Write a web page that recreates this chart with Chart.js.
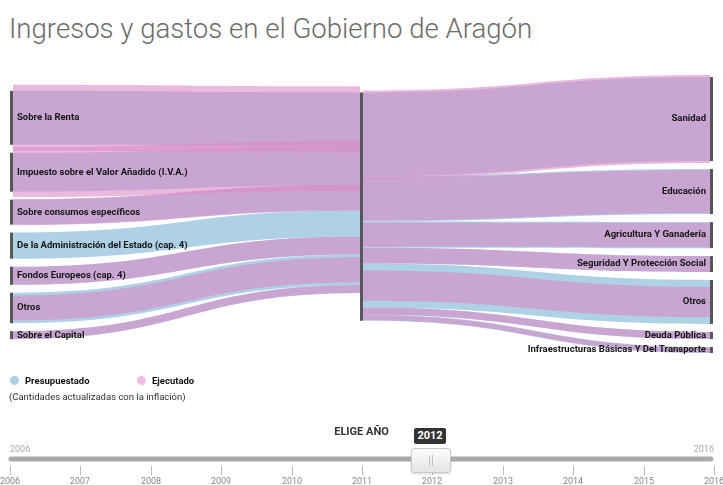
<!DOCTYPE html>
<html>
<head>
<meta charset="utf-8">
<script src="https://cdn.jsdelivr.net/npm/chart.js@4.4.1/dist/chart.umd.min.js"></script>
<style>
body { margin: 0; background: #fff; font-family: Roboto, "Noto Sans", sans-serif; }
#wrap { position: relative; width: 723px; height: 485px; overflow: hidden; }
#grafico { position: absolute; left: 0; top: 0; }
#titulo { position: absolute; left: 9px; top: 14px; margin: 0; font-size: 27.6px; line-height: 30px; font-weight: 300; color: #6b6b6b; white-space: nowrap; }
.ley { position: absolute; top: 376px; font-size: 9.5px; font-weight: bold; color: #111; line-height: 10px; }
.ley i { display: inline-block; width: 9px; height: 9px; border-radius: 50%; vertical-align: -1px; margin-right: 6px; }
#nota { position: absolute; left: 9px; top: 391px; font-size: 9.5px; color: #333; line-height: 11px; }
#elige { position: absolute; left: 0; width: 723px; top: 426px; text-align: center; font-size: 11px; font-weight: bold; color: #333; line-height: 12px; }
#burbuja { position: absolute; top: 428px; width: 32px; height: 16px; background: #333; color: #fff; border-radius: 2px; font-size: 11px; font-weight: bold; line-height: 16px; text-align: center; }
#pista { position: absolute; left: 8px; width: 704px; top: 456px; height: 4px; background: #a9a9a9; border: 1px solid #d4d4d4; border-radius: 3px; }
#mango { position: absolute; top: 448px; width: 38px; height: 23px; border: 1px solid #c9c9c9; border-radius: 3px; background: linear-gradient(#fdfdfd, #e4e4e4); box-shadow: 0 1px 2px rgba(0,0,0,0.15); }
#mango:before, #mango:after { content: ""; position: absolute; top: 6px; height: 11px; width: 1px; background: #c4c4c4; }
#mango:before { left: 17px; } #mango:after { left: 20px; }
.extremo { position: absolute; top: 444px; font-size: 9px; color: #aaa; line-height: 10px; }
.marca { position: absolute; top: 466px; width: 1px; height: 9px; background: #bbb; }
.anio { position: absolute; top: 476px; width: 40px; margin-left: -20px; text-align: center; font-size: 9px; color: #888; line-height: 10px; }
</style>
</head>
<body>
<div id="wrap">
  <h1 id="titulo">Ingresos y gastos en el Gobierno de Aragón</h1>
  <canvas id="grafico" width="723" height="485"></canvas>
  <div class="ley" style="left:10px"><i style="background:#acd0e6"></i>Presupuestado</div>
  <div class="ley" style="left:137px"><i style="background:#f2bde0"></i>Ejecutado</div>
  <div id="nota">(Cantidades actualizadas con la inflación)</div>
  <div id="selector"></div>
</div>
<script>
// millones de euros, año 2012
var ingresos = ["Sobre la Renta", "Impuesto sobre el Valor Añadido (I.V.A.)", "Sobre consumos específicos",
  "De la Administración del Estado (cap. 4)", "Fondos Europeos (cap. 4)", "Otros", "Sobre el Capital"];
var ingresosPresupuestado = [1220, 880, 565, 590, 410, 690, 180];
var ingresosEjecutado = [1490, 1130, 590, 0, 410, 565, 180];

var gastos = ["Sanidad", "Educación", "Agricultura Y Ganadería", "Seguridad Y Protección Social",
  "Otros", "Deuda Pública", "Infraestructuras Básicas Y Del Transporte"];
var gastosPresupuestado = [1900, 1020, 590, 360, 995, 160, 136];
var gastosEjecutado = [1990, 970, 545, 360, 680, 160, 115];

var years = [2006, 2007, 2008, 2009, 2010, 2011, 2012, 2013, 2014, 2015, 2016];
var selectedYear = 2012;

var PAD = 180; // hueco entre nodos, en millones
var BAR = 3;
var colorPresupuestado = 'rgba(140,190,220,0.7)';
var colorEjecutado = 'rgba(220,138,198,0.6)';

function sum(a){ return a.reduce(function(s, v){ return s + v; }, 0); }

var inTot = sum(ingresosPresupuestado);
var outTot = sum(gastosPresupuestado);
var yMax = Math.max(inTot + PAD * (ingresos.length - 1), outTot + PAD * (gastos.length - 1));

function stack(vals){
  var h = sum(vals) + PAD * (vals.length - 1);
  var y = (yMax - h) / 2;
  return vals.map(function(v){ var n = {y0: y, y1: y + v}; y += v + PAD; return n; });
}

function calcLayout(){
  var left = stack(ingresosPresupuestado);
  var right = stack(gastosPresupuestado);
  var cH = Math.max(inTot, outTot);
  var w = 0;
  left.forEach(function(n, i){ w += (n.y0 + n.y1) / 2 * ingresosPresupuestado[i]; });
  right.forEach(function(n, i){ w += (n.y0 + n.y1) / 2 * gastosPresupuestado[i]; });
  var mid = w / (inTot + outTot);
  var cy0 = Math.min(Math.max(mid - cH / 2, 0), yMax - cH);
  return {left: left, right: right, cy0: cy0, cy1: cy0 + cH};
}

var sankeyPlugin = {
  id: 'sankeyFlujos',
  afterDatasetsDraw: function(chart){
    var ctx = chart.ctx, xs = chart.scales.x, ys = chart.scales.y;
    var L = calcLayout();
    var xL = xs.getPixelForValue(0), xC = xs.getPixelForValue(1), xR = xs.getPixelForValue(2);
    var py = function(v){ return ys.getPixelForValue(v); };

    function band(x0, c0, x1, c1, val, color){
      var h = Math.abs(py(val) - py(0));
      if (h <= 0) return;
      var a = py(c0), b = py(c1), xm = (x0 + x1) / 2;
      ctx.beginPath();
      ctx.moveTo(x0, a - h / 2);
      ctx.bezierCurveTo(xm, a - h / 2, xm, b - h / 2, x1, b - h / 2);
      ctx.lineTo(x1, b + h / 2);
      ctx.bezierCurveTo(xm, b + h / 2, xm, a + h / 2, x0, a + h / 2);
      ctx.closePath();
      ctx.fillStyle = color;
      ctx.fill();
    }

    // centros de cada enlace en el nodo central
    var cIn = [], cOut = [], acc = L.cy0;
    ingresosPresupuestado.forEach(function(v){ cIn.push(acc + v / 2); acc += v; });
    acc = L.cy0;
    gastosPresupuestado.forEach(function(v){ cOut.push(acc + v / 2); acc += v; });

    ctx.save();
    [[ingresosPresupuestado, gastosPresupuestado, colorPresupuestado],
     [ingresosEjecutado, gastosEjecutado, colorEjecutado]].forEach(function(capa){
      L.left.forEach(function(n, i){
        band(xL + BAR, (n.y0 + n.y1) / 2, xC - BAR / 2, cIn[i], capa[0][i], capa[2]);
      });
      L.right.forEach(function(n, i){
        band(xC + BAR / 2, cOut[i], xR - BAR, (n.y0 + n.y1) / 2, capa[1][i], capa[2]);
      });
    });

    // nodos
    ctx.fillStyle = '#575757';
    L.left.forEach(function(n){ ctx.fillRect(xL, py(n.y0), BAR, py(n.y1) - py(n.y0)); });
    L.right.forEach(function(n){ ctx.fillRect(xR - BAR, py(n.y0), BAR, py(n.y1) - py(n.y0)); });
    ctx.fillRect(xC - BAR / 2, py(L.cy0), BAR, py(L.cy1) - py(L.cy0));

    // etiquetas
    ctx.font = 'bold 9.5px Roboto';
    ctx.fillStyle = '#151515';
    ctx.textBaseline = 'middle';
    ctx.textAlign = 'left';
    L.left.forEach(function(n, i){ ctx.fillText(ingresos[i], xL + 7, py((n.y0 + n.y1) / 2)); });
    ctx.textAlign = 'right';
    L.right.forEach(function(n, i){ ctx.fillText(gastos[i], xR - 7, py((n.y0 + n.y1) / 2)); });
    ctx.restore();
  }
};

new Chart(document.getElementById('grafico'), {
  type: 'scatter',
  data: { datasets: [{ data: [] }] },
  options: {
    responsive: false,
    animation: false,
    events: [],
    layout: { padding: { left: 10, right: 10, top: 77, bottom: 132 } },
    scales: {
      x: { type: 'linear', min: 0, max: 2, display: false },
      y: { type: 'linear', min: 0, max: yMax, reverse: true, display: false }
    },
    plugins: { legend: { display: false }, tooltip: { enabled: false } }
  },
  plugins: [sankeyPlugin]
});

// selector de año
var sel = document.getElementById('selector');
var x0 = 10, x1 = 714;
function xAnio(y){ return x0 + (y - years[0]) / (years[years.length - 1] - years[0]) * (x1 - x0); }
var html = '<div id="elige">ELIGE AÑO</div><div id="pista"></div>';
html += '<div class="extremo" style="left:10px">' + years[0] + '</div>';
html += '<div class="extremo" style="right:9px">' + years[years.length - 1] + '</div>';
years.forEach(function(y){
  html += '<div class="marca" style="left:' + Math.round(xAnio(y)) + 'px"></div>';
  html += '<div class="anio" style="left:' + Math.round(xAnio(y)) + 'px">' + y + '</div>';
});
var xs = xAnio(selectedYear);
html += '<div id="mango" style="left:' + Math.round(xs - 21) + 'px"></div>';
html += '<div id="burbuja" style="left:' + Math.round(xs - 18) + 'px">' + selectedYear + '</div>';
sel.innerHTML = html;
</script>
</body>
</html>
